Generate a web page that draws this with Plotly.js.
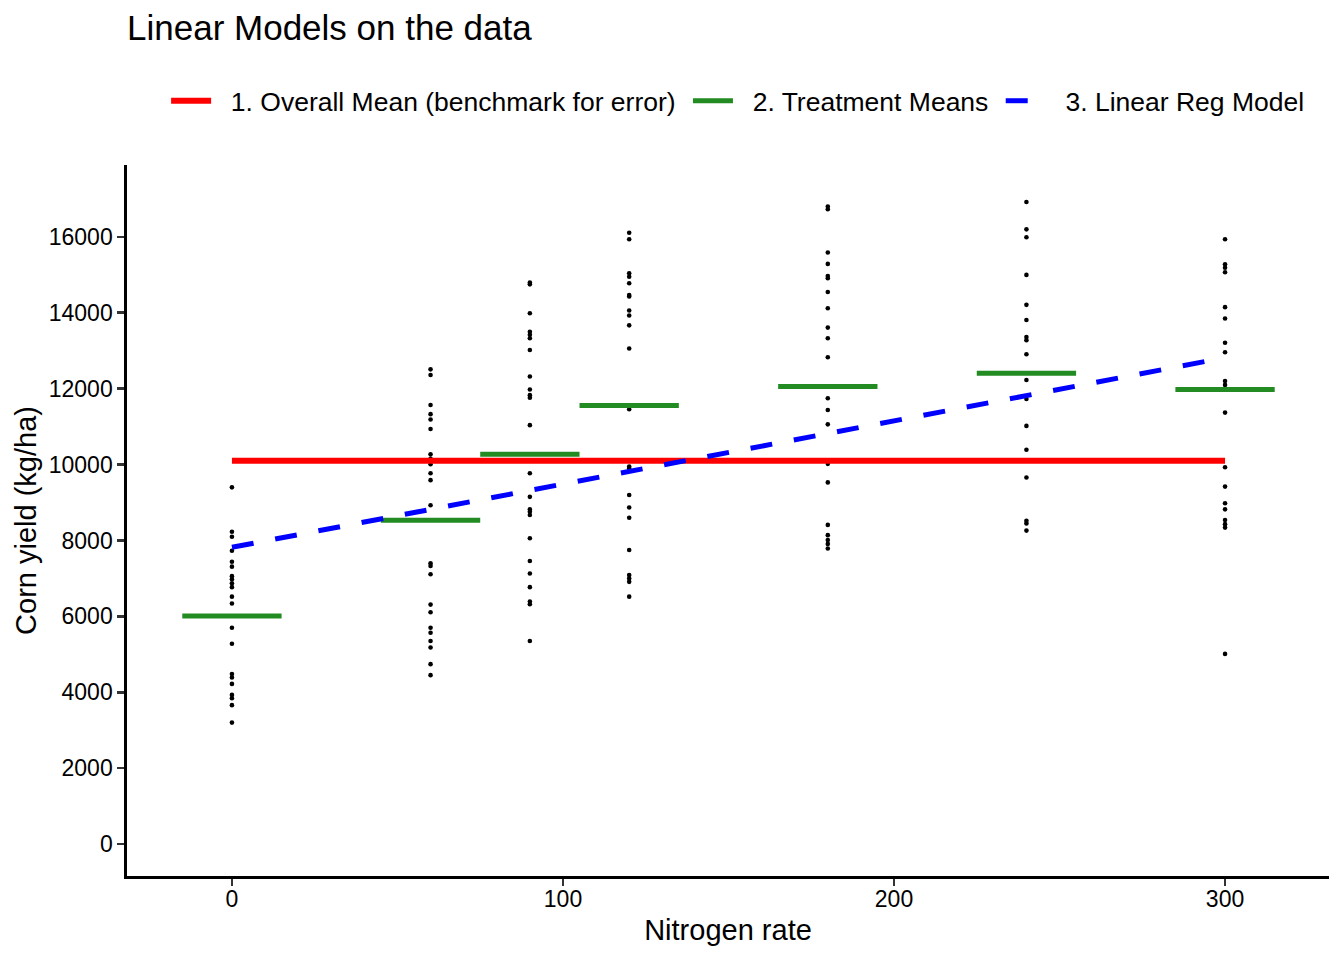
<!DOCTYPE html>
<html>
<head>
<meta charset="utf-8">
<script src="https://cdn.plot.ly/plotly-3.0.1.min.js"></script>
<style>html,body{margin:0;padding:0;background:#fff;}#chart{width:1344px;height:960px;}</style>
</head>
<body>
<div id="chart"></div>
<script>
// Nitrogen rates (treatments)
const rates = [0, 60, 90, 120, 180, 240, 300];

const yield0   = [9400, 8230, 8100, 7730, 7440, 7310, 7060, 6980, 6870, 6770, 6520, 6340, 5700, 5280, 4480, 4390, 4220, 3930, 3840, 3660, 3200];
const yield60  = [12510, 12360, 11570, 11330, 11190, 10940, 10270, 10150, 10010, 9770, 9590, 8930, 7400, 7330, 7110, 6310, 6110, 5700, 5570, 5350, 5180, 4740, 4450];
const yield90  = [14800, 14750, 13990, 13500, 13420, 13330, 13020, 12320, 11980, 11830, 11760, 11040, 9770, 9150, 8820, 8760, 8670, 8060, 7460, 7130, 6770, 6390, 6320, 5350];
const yield120 = [16110, 15940, 15040, 14950, 14780, 14470, 14430, 14060, 13930, 13670, 13060, 11460, 9950, 9900, 9200, 8870, 8600, 7750, 7090, 7000, 6910, 6520];
const yield180 = [16800, 16730, 15590, 15290, 14970, 14910, 14550, 14120, 13610, 13330, 12830, 11750, 11440, 11060, 10020, 9530, 8410, 8140, 8010, 7910, 7790];
const yield240 = [16920, 16200, 15990, 15000, 14210, 13810, 13360, 13280, 12910, 12230, 11730, 11020, 10390, 9660, 8520, 8450, 8260];
const yield300 = [15940, 15280, 15190, 15070, 14150, 13850, 13210, 12960, 12200, 12100, 12000, 11370, 9930, 9420, 8980, 8820, 8540, 8430, 8340, 5010];
const yieldsByRate = [yield0, yield60, yield90, yield120, yield180, yield240, yield300];

// Model values
const overallMean = 10100;                                            // 1. Overall Mean
const treatmentMeans = [6010, 8535, 10275, 11555, 12060, 12410, 11978]; // 2. Treatment Means
const regEnds = [7820, 12818];                                        // 3. Linear Reg Model at N = 0 and N = 300
const halfWidth = 15;                                                 // half width of treatment-mean bars (N units)

// Legend labels
const seriesNames = ['1. Overall Mean (benchmark for error)', '2. Treatment Means', '3. Linear Reg Model'];

// Build the point trace
const px = [], py = [];
yieldsByRate.forEach((arr, i) => arr.forEach(v => { px.push(rates[i]); py.push(v); }));

// Treatment means as separated segments
const tx = [], ty = [];
rates.forEach((r, i) => { tx.push(r - halfWidth, r + halfWidth, null); ty.push(treatmentMeans[i], treatmentMeans[i], null); });

const xMin = rates[0], xMax = rates[rates.length - 1];
const NB = '\u00a0';
const lead = NB + NB;

const traces = [
  {
    x: px, y: py, type: 'scatter', mode: 'markers',
    marker: {color: '#000000', size: 4.6},
    showlegend: false, hoverinfo: 'x+y'
  },
  {
    x: [xMin, xMax], y: [overallMean, overallMean], type: 'scatter', mode: 'lines',
    name: lead + seriesNames[0] + NB,
    line: {color: '#FF0000', width: 6}
  },
  {
    x: tx, y: ty, type: 'scatter', mode: 'lines',
    name: lead + seriesNames[1] + NB,
    line: {color: '#228B22', width: 5},
    connectgaps: false
  },
  {
    x: [xMin, xMax], y: regEnds, type: 'scatter', mode: 'lines',
    name: lead + seriesNames[2],
    line: {color: '#0000FF', width: 5, dash: '22px,22px'}
  }
];

const font = 'Liberation Sans, Arial, Helvetica, sans-serif';

const layout = {
  width: 1344, height: 960,
  paper_bgcolor: '#ffffff', plot_bgcolor: '#ffffff',
  margin: {l: 127, r: 15, t: 165, b: 84},
  font: {family: font, color: '#000000'},
  title: {
    text: 'Linear Models on the data',
    font: {family: font, size: 35, color: '#000000'},
    x: 0, xref: 'paper', xanchor: 'left',
    y: 1 - 28 / 960, yref: 'container', yanchor: 'middle'
  },
  showlegend: true,
  legend: {
    orientation: 'h',
    x: 0.508, xanchor: 'center',
    y: 1 + 64 / 711, yanchor: 'middle',
    font: {family: font, size: 26.5, color: '#000000'},
    bgcolor: 'rgba(0,0,0,0)',
    itemwidth: 40,
    traceorder: 'normal'
  },
  xaxis: {
    range: [-31.7, 331.4],
    tickvals: [0, 100, 200, 300],
    ticktext: ['0', '100', '200', '300'],
    showgrid: false, zeroline: false,
    showline: true, linecolor: '#000000', linewidth: 2.7,
    ticks: 'outside', ticklen: 7, tickwidth: 2.7, tickcolor: '#333333',
    ticklabelstandoff: -6,
    tickfont: {family: font, size: 23, color: '#000000'},
    title: {text: 'Nitrogen rate', font: {family: font, size: 29, color: '#000000'}, standoff: 9},
    automargin: false
  },
  yaxis: {
    range: [-843, 17896],
    tickvals: [0, 2000, 4000, 6000, 8000, 10000, 12000, 14000, 16000],
    ticktext: ['0', '2000', '4000', '6000', '8000', '10000', '12000', '14000', '16000'],
    showgrid: false, zeroline: false,
    showline: true, linecolor: '#000000', linewidth: 2.7,
    ticks: 'outside', ticklen: 7, tickwidth: 2.7, tickcolor: '#333333',
    tickfont: {family: font, size: 23, color: '#000000'},
    title: {text: 'Corn yield (kg/ha)', font: {family: font, size: 29, color: '#000000'}, standoff: 4},
    automargin: false
  }
};

Plotly.newPlot('chart', traces, layout, {displayModeBar: false, staticPlot: true});
</script>
</body>
</html>
